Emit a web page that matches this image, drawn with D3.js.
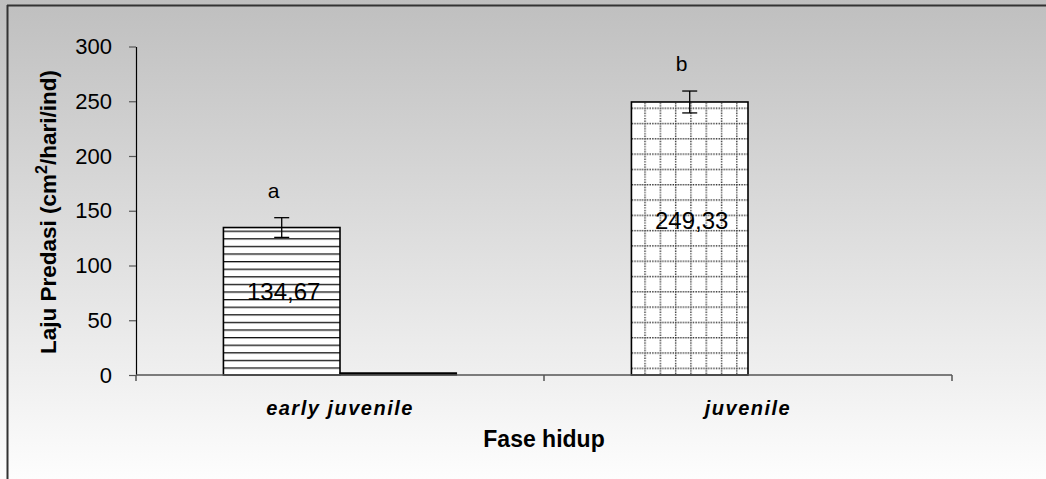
<!DOCTYPE html>
<html>
<head>
<meta charset="utf-8">
<script src="https://cdn.jsdelivr.net/npm/d3@7"></script>
<style>
  html, body { margin: 0; padding: 0; background: #fff; }
  svg { display: block; }
  text { font-family: Arial, "Liberation Sans", sans-serif; fill: #000; }
</style>
</head>
<body>
<svg id="chart" width="1046" height="479"></svg>
<script>
// Life stage categories and predation rate (cm²/hari/ind)
const categories = ["early juvenile", "juvenile"];
const seriesNames = ["s1", "s2"];
const seriesMain = [134.67, 249.33];
const seriesSecond = [2, 0];
const errors = [9, 10];
const letters = ["a", "b"];
const valueLabels = ["134,67", "249,33"];
const yTicks = [0, 50, 100, 150, 200, 250, 300];

const svg = d3.select("#chart");
const W = 1046, H = 479;
const plotLeft = 136, plotRight = 952, plotTop = 46.5, plotBottom = 375;

const x = d3.scaleBand().domain(categories).range([plotLeft, plotRight]).padding(0);
const bw = x.bandwidth();
const barW = bw / 3.5;
const x1 = d3.scaleBand().domain(seriesNames).range([(bw - 2 * barW) / 2, (bw + 2 * barW) / 2]).padding(0);
const y = d3.scaleLinear().domain([0, 300]).range([plotBottom, plotTop]);

const defs = svg.append("defs");
const grad = defs.append("linearGradient").attr("id", "bg").attr("x1", 0).attr("y1", 0).attr("x2", 0).attr("y2", 1);
grad.append("stop").attr("offset", "0%").attr("stop-color", "#bfbfbf");
grad.append("stop").attr("offset", "100%").attr("stop-color", "#fdfdfd");

// horizontal stripe fill
const hatch = defs.append("pattern").attr("id", "hatch").attr("patternUnits", "userSpaceOnUse")
  .attr("width", 8).attr("height", 7.6).attr("y", plotBottom);
hatch.append("rect").attr("width", 8).attr("height", 7.6).attr("fill", "#fff");
hatch.append("rect").attr("y", 0).attr("width", 8).attr("height", 1.3).attr("fill", "#111");

// dotted grid fill
const step = 15.3;
const gridX0 = x(categories[1]) + x1("s1") + 13.6;
const grid = defs.append("pattern").attr("id", "grid").attr("patternUnits", "userSpaceOnUse")
  .attr("width", step).attr("height", step).attr("x", gridX0 - 0.7).attr("y", plotBottom - 6.7 - 0.7);
grid.append("rect").attr("width", step).attr("height", step).attr("fill", "#fff");
grid.append("line").attr("x1", 0).attr("x2", step).attr("y1", 0.7).attr("y2", 0.7)
  .attr("stroke", "#333").attr("stroke-width", 1.4).attr("stroke-dasharray", "1.4,1.2");
grid.append("line").attr("x1", 0.7).attr("x2", 0.7).attr("y1", 0).attr("y2", step)
  .attr("stroke", "#333").attr("stroke-width", 1.4).attr("stroke-dasharray", "1.4,1.2");

// background and frame
svg.append("rect").attr("width", W).attr("height", H).attr("fill", "url(#bg)");
svg.append("line").attr("x1", 7).attr("x2", W).attr("y1", 5.5).attr("y2", 5.5).attr("stroke", "#333").attr("stroke-width", 2);
svg.append("line").attr("x1", 7.5).attr("x2", 7.5).attr("y1", 5).attr("y2", H).attr("stroke", "#333").attr("stroke-width", 2);

// y axis
const yAxis = svg.append("g").attr("transform", `translate(${plotLeft},0)`)
  .call(d3.axisLeft(y).tickValues(yTicks).tickSize(7).tickSizeOuter(0).tickPadding(17));
yAxis.select(".domain").attr("stroke", "#000").attr("stroke-width", 1.2);
yAxis.selectAll(".tick line").attr("stroke", "#555").attr("stroke-width", 1.2);
yAxis.selectAll(".tick text").style("font-size", "22px").style("font-family", "Arial, 'Liberation Sans', sans-serif").attr("fill", "#000");

// bars
const mainFill = ["url(#hatch)", "url(#grid)"];
const g = svg.append("g");
g.selectAll("rect.main").data(categories).join("rect").attr("class", "main")
  .attr("x", (d) => x(d) + x1("s1"))
  .attr("y", (d, i) => y(seriesMain[i]))
  .attr("width", x1.bandwidth())
  .attr("height", (d, i) => y(0) - y(seriesMain[i]))
  .attr("fill", (d, i) => mainFill[i])
  .attr("stroke", "#000").attr("stroke-width", 1.6);

g.selectAll("rect.second").data(categories).join("rect").attr("class", "second")
  .attr("x", (d) => x(d) + x1("s2"))
  .attr("y", (d, i) => y(seriesSecond[i]))
  .attr("width", x1.bandwidth())
  .attr("height", (d, i) => y(0) - y(seriesSecond[i]))
  .attr("fill", "#000")
  .attr("stroke", (d, i) => seriesSecond[i] > 0 ? "#000" : "none").attr("stroke-width", 1);

// error bars
const cx = (i) => x(categories[i]) + x1("s1") + x1.bandwidth() / 2;
const eb = svg.append("g").attr("stroke", "#000").attr("stroke-width", 1.3);
categories.forEach((c, i) => {
  const hi = y(seriesMain[i] + errors[i]), lo = y(seriesMain[i] - errors[i]);
  eb.append("line").attr("x1", cx(i)).attr("x2", cx(i)).attr("y1", hi).attr("y2", lo);
  eb.append("line").attr("x1", cx(i) - 7.5).attr("x2", cx(i) + 7.5).attr("y1", hi).attr("y2", hi);
  eb.append("line").attr("x1", cx(i) - 7.5).attr("x2", cx(i) + 7.5).attr("y1", lo).attr("y2", lo);
});

// significance letters
svg.selectAll("text.sig").data(letters).join("text").attr("class", "sig")
  .attr("x", (d, i) => cx(i) - 8)
  .attr("y", (d, i) => y(seriesMain[i] + errors[i]) - 20)
  .attr("text-anchor", "middle").style("font-size", "21px").text((d) => d);

// value labels
svg.selectAll("text.val").data(valueLabels).join("text").attr("class", "val")
  .attr("x", (d, i) => cx(i) + 2)
  .attr("y", (d, i) => y(seriesMain[i] * 0.565))
  .attr("dy", "0.35em")
  .attr("text-anchor", "middle").style("font-size", "24px").text((d) => d);

// x axis
const xa = svg.append("g");
xa.append("line").attr("x1", plotLeft).attr("x2", plotRight).attr("y1", plotBottom).attr("y2", plotBottom)
  .attr("stroke", "#555").attr("stroke-width", 1.5);
const bounds = categories.map((c) => x(c)).concat([plotRight]);
xa.selectAll("line.tk").data(bounds).join("line").attr("class", "tk")
  .attr("x1", (d) => d).attr("x2", (d) => d).attr("y1", plotBottom).attr("y2", plotBottom + 6)
  .attr("stroke", "#555").attr("stroke-width", 1.5);
xa.selectAll("text").data(categories).join("text")
  .attr("x", (d) => x(d) + bw / 2).attr("y", 415)
  .attr("text-anchor", "middle")
  .style("font-size", "20px").style("font-weight", "bold").style("font-style", "italic")
  .style("letter-spacing", "1.5px")
  .text((d) => d);

// axis titles
svg.append("text").attr("x", (plotLeft + plotRight) / 2).attr("y", 447).attr("text-anchor", "middle")
  .style("font-size", "23px").style("font-weight", "bold").text("Fase hidup");

const yt = svg.append("text").attr("transform", "translate(56,212) rotate(-90)")
  .attr("text-anchor", "middle").style("font-size", "22.5px").style("font-weight", "bold");
yt.append("tspan").text("Laju Predasi (cm");
yt.append("tspan").attr("dy", -9).style("font-size", "16px").text("2");
yt.append("tspan").attr("dy", 9).text("/hari/ind)");
</script>
</body>
</html>
